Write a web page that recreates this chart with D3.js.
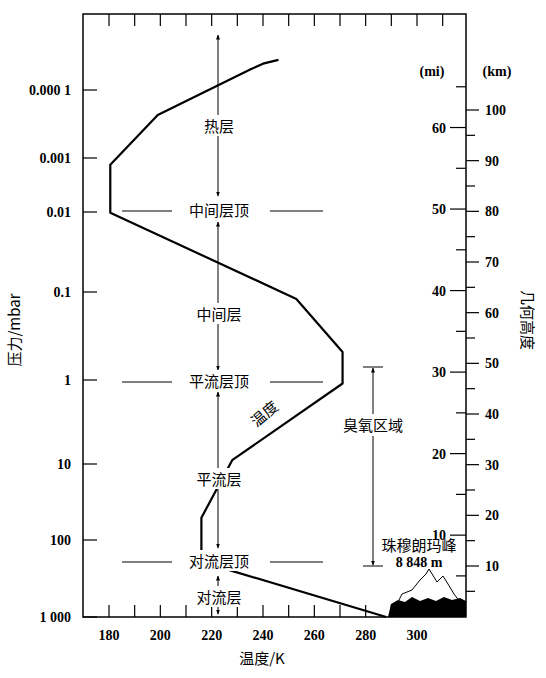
<!DOCTYPE html>
<html><head><meta charset="utf-8">
<script src="https://cdn.jsdelivr.net/npm/d3@7"></script>
<style>
body{margin:0;background:#fff}
.num{font-family:"Liberation Serif",serif;font-weight:bold;font-size:14px}
.cn{font-family:"Noto Sans CJK SC",sans-serif;font-size:15px}
</style></head><body>
<svg id="c" width="546" height="678"></svg>
<script>
// temperature profile: [K, pressure mbar]
const profile = [[288,1000],[224,230],[216,180],[216,51],[228,9],[271,1.1],[271,0.48],[253,0.12],[180.5,0.0102],[180.5,0.00134],[199,0.000233],[235,0.00005],[240,0.000041],[246,0.000036]];
const pTicks = [1000,100,10,1,0.1,0.01,0.001,0.0001];
const pLabels = ["1 000","100","10","1","0.1","0.01","0.001","0.000 1"];
const pPixel = [617,540,464,380,292,212,158,90];
const tLabels = [180,200,220,240,260,280,300];
const kmLabels = [10,20,30,40,50,60,70,80,90,100];
const miLabels = [10,20,30,40,50,60];
const layers = [["热层",127,false],["中间层顶",211,true],["中间层",315,false],["平流层顶",382,true],["平流层",480,false],["对流层顶",562,true],["对流层",598,false]];

const svg = d3.select('#c');
const L=83, R=466, T=14, B=617;
const x = d3.scaleLinear().domain([180,300]).range([109,417]);
const y = d3.scaleLinear().domain(pTicks.map(p=>Math.log10(p))).range(pPixel);
const yp = p => y(Math.log10(p));
const km = d3.scaleLinear().domain([10,100]).range([566,110]);

// frame
svg.append('rect').attr('x',L).attr('y',T).attr('width',R-L).attr('height',B-T)
  .attr('fill','none').attr('stroke','#000').attr('stroke-width',1.5);

// temperature ticks top & bottom
d3.range(170,320,10).filter(t=>x(t)>L+2&&x(t)<R-2).forEach(t=>{
  svg.append('line').attr('x1',x(t)).attr('x2',x(t)).attr('y1',B).attr('y2',B-12).attr('stroke','#000').attr('stroke-width',1.2);
  svg.append('line').attr('x1',x(t)).attr('x2',x(t)).attr('y1',T).attr('y2',T+12).attr('stroke','#000').attr('stroke-width',1.2);
});
tLabels.forEach(t=>svg.append('text').attr('class','num').attr('x',x(t)).attr('y',B+23).attr('text-anchor','middle').text(t));
svg.append('text').attr('class','cn').attr('x',262).attr('y',664).attr('text-anchor','middle').text('温度/K');

// pressure axis
pTicks.forEach((p,i)=>{
  svg.append('line').attr('x1',L).attr('x2',L+14).attr('y1',yp(p)).attr('y2',yp(p)).attr('stroke','#000').attr('stroke-width',1.2);
  svg.append('text').attr('class','num').attr('x',L-12).attr('y',yp(p)+5).attr('text-anchor','end').text(pLabels[i]);
});
svg.append('text').attr('class','cn').attr('transform','translate(20,330) rotate(-90)').attr('text-anchor','middle').text('压力/mbar');

// height axes
d3.range(5,101,5).forEach(k=>{
  const major=k%10===0;
  svg.append('line').attr('x1',R).attr('x2',R+(major?13:9)).attr('y1',km(k)).attr('y2',km(k)).attr('stroke','#000').attr('stroke-width',1.2);
});
kmLabels.forEach(k=>svg.append('text').attr('class','num').attr('x',R+19).attr('y',km(k)+5).text(k));
d3.range(5,66,5).forEach(m=>{
  const major=m%10===0, yy=km(m*1.609);
  svg.append('line').attr('x1',R).attr('x2',R-(major?16:10)).attr('y1',yy).attr('y2',yy).attr('stroke','#000').attr('stroke-width',1.2);
});
miLabels.forEach(m=>svg.append('text').attr('class','num').attr('x',R-20).attr('y',km(m*1.609)+5).attr('text-anchor','end').text(m));
svg.append('text').attr('class','num').attr('x',432).attr('y',76).attr('text-anchor','middle').attr('font-size',13).text('(mi)');
svg.append('text').attr('class','num').attr('x',497).attr('y',76).attr('text-anchor','middle').attr('font-size',13).text('(km)');
svg.append('text').attr('class','cn').attr('transform','translate(522,320) rotate(90)').attr('text-anchor','middle').text('几何高度');

// arrows
const defs=svg.append('defs');
defs.append('marker').attr('id','ah').attr('viewBox','0 0 10 10').attr('refX',9).attr('refY',5)
  .attr('markerWidth',5).attr('markerHeight',6).attr('orient','auto-start-reverse')
  .append('path').attr('d','M0,1L10,5L0,9Z').attr('fill','#000');
const ax=218;
[[35,196],[222,370],[392,548],[576,614]].forEach(([a,b])=>
  svg.append('line').attr('x1',ax).attr('x2',ax).attr('y1',a).attr('y2',b).attr('stroke','#000').attr('stroke-width',1)
    .attr('marker-start','url(#ah)').attr('marker-end','url(#ah)'));

// mountain
const mtn=svg.append('g');
mtn.append('path').attr('d','M398,602 L402,594 L412,590 L420,580 L426,574 L429,569 L437,582 L443,576 L448,584 L454,594 L460,602')
  .attr('fill','none').attr('stroke','#000').attr('stroke-width',1);
mtn.append('path').attr('d','M388,617 L391,604 L398,600 L405,602 L412,597 L420,601 L428,598 L436,601 L444,597 L452,600 L460,598 L466,601 L466,617Z').attr('fill','#000');

// temperature line
svg.append('path').datum(profile).attr('fill','none').attr('stroke','#000').attr('stroke-width',2.2)
  .attr('stroke-linejoin','round').attr('d',d3.line().x(d=>x(d[0])).y(d=>yp(d[1])));

// layer labels
layers.forEach(([t,yy,dash])=>{
  if(dash){
    svg.append('line').attr('x1',122).attr('x2',172).attr('y1',yy).attr('y2',yy).attr('stroke','#000');
    svg.append('line').attr('x1',270).attr('x2',323).attr('y1',yy).attr('y2',yy).attr('stroke','#000');
  }
  const tx=svg.append('text').attr('class','cn').attr('x',219).attr('y',yy+5).attr('text-anchor','middle').text(t);
  const bb=tx.node().getBBox();
  svg.insert('rect','text:last-of-type').attr('x',bb.x-2).attr('y',bb.y).attr('width',bb.width+4).attr('height',bb.height).attr('fill','#fff');
});
svg.append('text').attr('class','cn').attr('transform','translate(268,418) rotate(-40)').attr('text-anchor','middle').text('温度');

// ozone
const ox=373;
svg.append('line').attr('x1',ox).attr('x2',ox).attr('y1',368).attr('y2',565).attr('stroke','#000')
  .attr('marker-start','url(#ah)').attr('marker-end','url(#ah)');
[367,566].forEach(yy=>svg.append('line').attr('x1',ox-10).attr('x2',ox+10).attr('y1',yy).attr('y2',yy).attr('stroke','#000'));
svg.append('rect').attr('x',334).attr('y',414).attr('width',78).attr('height',22).attr('fill','#fff');
svg.append('text').attr('class','cn').attr('x',373).attr('y',431).attr('text-anchor','middle').text('臭氧区域');
svg.append('text').attr('class','cn').attr('x',419).attr('y',551).attr('text-anchor','middle').text('珠穆朗玛峰');
svg.append('text').attr('class','num').attr('x',419).attr('y',567).attr('text-anchor','middle').text('8 848 m');
</script></body></html>
